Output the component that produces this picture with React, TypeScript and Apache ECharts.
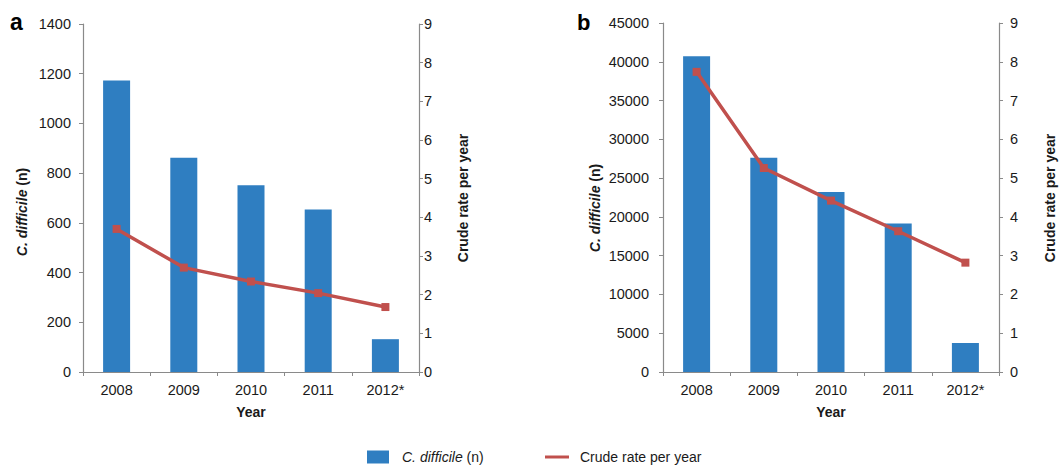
import React, { useEffect, useRef } from "react";
import * as echarts from "echarts";

const years = ["2008", "2009", "2010", "2011", "2012*"];
const casesA = [1173, 862, 751, 654, 132];
const rateA = [3.7, 2.7, 2.34, 2.04, 1.68];
const casesB = [40700, 27630, 23210, 19160, 3740];
const rateB = [7.74, 5.26, 4.42, 3.63, 2.82];

const FONT = "'Liberation Sans', Arial, Helvetica, sans-serif";
const BAR = "#2f7ec1";
const LINE = "#c0504d";
const AXIS = "#8a8a8a";
const TEXT = "#1a1a1a";

export default function App() {
  const ref = useRef<HTMLDivElement>(null);
  useEffect(() => {
    if (!ref.current) return;
    const chart = echarts.init(ref.current, null, { renderer: "svg" });
    const catAxis = (gridIndex: number) => ({
      type: "category",
      gridIndex,
      data: years,
      boundaryGap: true,
      name: "Year",
      nameLocation: "middle",
      nameGap: 33,
      nameTextStyle: { fontFamily: FONT, fontSize: 14, fontWeight: "bold", color: TEXT },
      axisLine: { lineStyle: { color: AXIS, width: 1.2 } },
      axisTick: { show: true, length: 4, alignWithLabel: false, lineStyle: { color: AXIS } },
      axisLabel: { fontFamily: FONT, fontSize: 14.5, color: TEXT, margin: 10 },
    });
    const valAxis = (
      gridIndex: number,
      position: string,
      max: number,
      interval: number,
      margin: number
    ) => ({
      type: "value",
      gridIndex,
      position,
      min: 0,
      max,
      interval,
      splitLine: { show: false },
      axisLine: { show: true, lineStyle: { color: AXIS, width: 1.2 } },
      axisTick: { show: true, length: 4, lineStyle: { color: AXIS } },
      axisLabel: {
        fontFamily: FONT,
        fontSize: 14.5,
        color: TEXT,
        margin,
        formatter: (v: number) => String(v),
      },
    });
    const nameStyle = (x: number, y: number, text: string) => ({
      type: "text",
      x,
      y,
      rotation: Math.PI / 2,
      style: {
        text,
        fontFamily: FONT,
        fontSize: 14,
        fontWeight: "bold",
        fill: TEXT,
        align: "center",
        verticalAlign: "middle",
        rich: {
          i: { fontFamily: FONT, fontSize: 14, fontWeight: "bold", fontStyle: "italic", fill: TEXT },
          n: { fontFamily: FONT, fontSize: 14, fontWeight: "bold", fill: TEXT },
        },
      },
    });
    const barSeries = (name: string, idx: number, data: number[]) => ({
      type: "bar",
      name,
      xAxisIndex: idx,
      yAxisIndex: idx * 2,
      data,
      barWidth: 27,
      itemStyle: { color: BAR },
    });
    const lineSeries = (name: string, idx: number, data: number[]) => ({
      type: "line",
      name,
      xAxisIndex: idx,
      yAxisIndex: idx * 2 + 1,
      data,
      symbol: "rect",
      symbolSize: 8,
      lineStyle: { color: LINE, width: 3.5 },
      itemStyle: { color: LINE },
    });
    chart.setOption({
      animation: false,
      backgroundColor: "#ffffff",
      grid: [
        { left: 83, right: 643, top: 24, bottom: 94 },
        { left: 663, right: 63, top: 23, bottom: 94 },
      ],
      xAxis: [catAxis(0), catAxis(1)],
      yAxis: [
        valAxis(0, "left", 1400, 200, 12),
        valAxis(0, "right", 9, 1, 5),
        valAxis(1, "left", 45000, 5000, 14),
        valAxis(1, "right", 9, 1, 11),
      ],
      legend: [
        {
          data: ["C. difficile (n)"],
          left: 362,
          top: 445,
          itemWidth: 22,
          itemHeight: 13,
          icon: "rect",
          formatter: () => "{i|C. difficile} (n)",
          textStyle: {
            fontFamily: FONT,
            fontSize: 14,
            color: TEXT,
            padding: [0, 0, 0, 8],
            rich: { i: { fontFamily: FONT, fontSize: 14, fontStyle: "italic", color: TEXT } },
          },
        },
        {
          data: ["Crude rate per year"],
          left: 540,
          top: 445,
          itemWidth: 24,
          itemHeight: 3,
          icon: "rect",
          textStyle: { fontFamily: FONT, fontSize: 14, color: TEXT, padding: [0, 0, 0, 6] },
        },
      ],
      graphic: [
        {
          type: "text",
          x: 10,
          y: 22,
          style: { text: "a", fontFamily: FONT, fontSize: 23, fontWeight: "bold", fill: "#000", verticalAlign: "middle" },
        },
        {
          type: "text",
          x: 577,
          y: 22,
          style: { text: "b", fontFamily: FONT, fontSize: 22, fontWeight: "bold", fill: "#000", verticalAlign: "middle" },
        },
        nameStyle(22, 212, "{i|C. difficile}{n| (n)}"),
        nameStyle(595, 208, "{i|C. difficile}{n| (n)}"),
        nameStyle(463, 198, "Crude rate per year"),
        nameStyle(1050, 198, "Crude rate per year"),
      ],
      series: [
        barSeries("C. difficile (n)", 0, casesA),
        lineSeries("Crude rate per year", 0, rateA),
        barSeries("C. difficile (n)", 1, casesB),
        lineSeries("Crude rate per year", 1, rateB),
      ],
    });
    return () => chart.dispose();
  }, []);
  return (
    <div
      ref={ref}
      style={{ position: "fixed", left: 0, top: 0, width: 1062, height: 466, background: "#fff" }}
    />
  );
}
